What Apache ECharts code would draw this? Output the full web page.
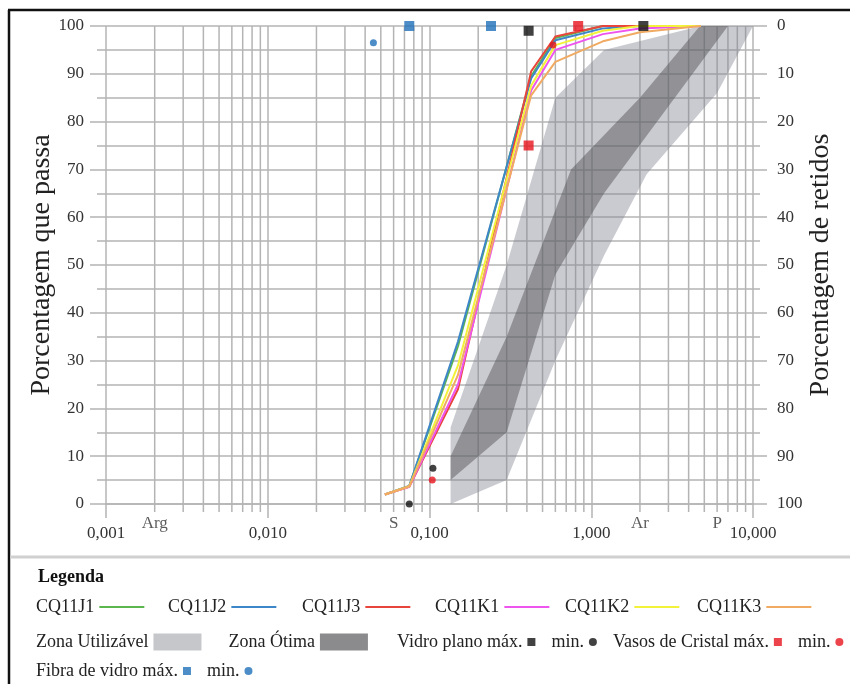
<!DOCTYPE html>
<html>
<head>
<meta charset="utf-8">
<script src="https://cdn.jsdelivr.net/npm/echarts@6/dist/echarts.min.js"></script>
<style>
  html, body { margin: 0; padding: 0; background: #fff; }
  #chart { width: 850px; height: 684px; }
</style>
</head>
<body>
<div id="chart"></div>
<script>
// aberturas das peneiras (mm)
var sieves = [0.053, 0.075, 0.15, 0.425, 0.6, 1.18, 2.0, 4.75];
// porcentagem que passa
var cq11j1 = [2, 3.8, 33, 89.5, 97.5, 100, 100, 100];
var cq11j2 = [2, 3.8, 34, 89, 97, 99.5, 100, 100];
var cq11j3 = [2, 3.6, 24, 90.5, 97.8, 100, 100, 100];
var cq11k1 = [2, 3.6, 25, 86.5, 95, 98.3, 99.5, 100];
var cq11k2 = [2, 3.7, 29, 87.5, 96, 99, 100, 100];
var cq11k3 = [2, 3.7, 27, 85.5, 92.5, 96.8, 98.7, 100];

// zonas (limite fino / limite grosso)
var utilFineX = [0.135, 0.3, 0.6, 1.2, 4.75];
var utilFineY = [16, 50, 85, 95, 100];
var utilCoarseX = [0.135, 0.3, 0.6, 1.2, 2.2, 6, 10];
var utilCoarseY = [0, 5, 30, 52, 69, 86, 100];
var otimaFineX = [0.135, 0.3, 0.75, 2, 4.7];
var otimaFineY = [10, 35, 70, 85, 100];
var otimaCoarseX = [0.135, 0.3, 0.6, 1.2, 7];
var otimaCoarseY = [5, 15, 48, 65, 100];

// limites de referência
var vidroMax = [[0.41, 99], [2.1, 100]];
var vidroMin = [[0.075, 0], [0.105, 7.5]];
var vasosMax = [[0.83, 100], [0.41, 75]];
var vasosMin = [[0.104, 5], [0.58, 96]];
var fibraMax = [[0.075, 100], [0.24, 100]];
var fibraMin = [[0.045, 96.5]];

// classes de solo
var classNames = ['Arg', 'S', 'Ar', 'P'];
var classBounds = [0.002, 0.06, 2, 6];

var curveNames = ['CQ11J1', 'CQ11J2', 'CQ11J3', 'CQ11K1', 'CQ11K2', 'CQ11K3'];
var curveData = [cq11j1, cq11j2, cq11j3, cq11k1, cq11k2, cq11k3];
var curveColors = ['#5cb64e', '#3d86c8', '#e8463c', '#ee55ee', '#f2f23a', '#f0aa62'];

// posição horizontal de cada item da 1a linha da legenda
var curveLegendLeft = [36, 168, 302, 435, 565, 697];

var serif = 'Liberation Serif';
var gridColor = '#b4b4b4';
var gridLine = { color: gridColor, width: 1.5 };

// linhas secundárias do papel log
var minorX = [];
[0.001, 0.01, 0.1, 1].forEach(function (d) {
  for (var k = 2; k <= 9; k++) minorX.push(+(k * d).toPrecision(3));
});

function zoneSeries(name, fx, fy, cx, cy, color) {
  var pts = [];
  fx.forEach(function (x, i) { pts.push([x, fy[i]]); });
  for (var i = cx.length - 1; i >= 0; i--) pts.push([cx[i], cy[i]]);
  return {
    name: name,
    type: 'custom',
    silent: true,
    z: 1,
    itemStyle: { color: color },
    data: pts,
    renderItem: function (params, api) {
      if (params.dataIndex !== 0) return null;
      return {
        type: 'polygon',
        shape: { points: pts.map(function (p) { return api.coord(p); }) },
        style: { fill: color }
      };
    }
  };
}

function markerSeries(name, data, symbol, size, color) {
  return {
    name: name, type: 'scatter', data: data, symbol: symbol, symbolSize: size,
    itemStyle: { color: color }, z: 5, silent: true
  };
}

var series = [
  {
    name: 'grade', type: 'custom', silent: true, z: 0,
    data: minorX.map(function (v) { return [v, 0]; }),
    renderItem: function (params, api) {
      var a = api.coord([api.value(0), 100]);
      var b = api.coord([api.value(0), 0]);
      return {
        type: 'line',
        shape: { x1: a[0], y1: a[1], x2: b[0], y2: b[1] + 8 },
        style: { stroke: gridColor, lineWidth: 1.5 }
      };
    }
  },
  zoneSeries('Zona Utilizável', utilFineX, utilFineY, utilCoarseX, utilCoarseY, 'rgba(133,135,145,0.43)'),
  zoneSeries('Zona Ótima', otimaFineX, otimaFineY, otimaCoarseX, otimaCoarseY, 'rgba(80,80,84,0.47)')
];

curveNames.forEach(function (n, i) {
  series.push({
    name: n, type: 'line', z: 3, silent: true,
    symbol: 'none',
    lineStyle: { color: curveColors[i], width: 2 },
    itemStyle: { color: curveColors[i] },
    data: sieves.map(function (s, j) { return [s, curveData[i][j]]; })
  });
});

series.push(
  markerSeries('Vidro plano máx.', vidroMax, 'rect', 10, '#111'),
  markerSeries('Vidro plano min.', vidroMin, 'circle', 7, '#111'),
  markerSeries('Vasos de Cristal máx.', vasosMax, 'rect', 10, '#e8141e'),
  markerSeries('Vasos de Cristal min.', vasosMin, 'circle', 7, '#e8141e'),
  markerSeries('Fibra de vidro máx.', fibraMax, 'rect', 10, '#1f70ba'),
  markerSeries('Fibra de vidro min.', fibraMin, 'circle', 7, '#1f70ba'),
  {
    name: 'classes', type: 'scatter', silent: true, symbolSize: 0,
    data: classBounds.map(function (v) { return [v, 0]; }),
    label: {
      show: true, position: 'bottom', distance: 11,
      fontFamily: serif, fontSize: 17, color: '#333',
      formatter: function (p) { return classNames[p.dataIndex]; }
    }
  }
);

var legendText = { fontFamily: serif, fontSize: 18, color: '#222' };
var minFormatter = function (n) { return /min\.$/.test(n) ? 'min.' : n; };

var legends = curveNames.map(function (n, i) {
  return {
    left: curveLegendLeft[i], top: 598, padding: 0, align: 'right', selectedMode: false,
    icon: 'rect', itemWidth: 45, itemHeight: 2,
    textStyle: legendText, data: [n]
  };
});
legends.push(
  {
    left: 36, top: 633, padding: 0, align: 'right', selectedMode: false,
    icon: 'rect', itemWidth: 48, itemHeight: 17, itemGap: 27,
    textStyle: legendText,
    data: [
      { name: 'Zona Utilizável', itemStyle: { color: '#c6c7cb' } },
      { name: 'Zona Ótima', itemStyle: { color: '#8b8b8e' } }
    ]
  },
  {
    left: 397, top: 633, padding: 0, align: 'right', selectedMode: false,
    itemWidth: 8, itemHeight: 8, itemGap: 16,
    textStyle: legendText, formatter: minFormatter,
    data: [
      { name: 'Vidro plano máx.', icon: 'rect' },
      { name: 'Vidro plano min.', icon: 'circle' },
      { name: 'Vasos de Cristal máx.', icon: 'rect' },
      { name: 'Vasos de Cristal min.', icon: 'circle' }
    ]
  },
  {
    left: 36, top: 662, padding: 0, align: 'right', selectedMode: false,
    itemWidth: 8, itemHeight: 8, itemGap: 16,
    textStyle: legendText, formatter: minFormatter,
    data: [
      { name: 'Fibra de vidro máx.', icon: 'rect' },
      { name: 'Fibra de vidro min.', icon: 'circle' }
    ]
  }
);

var chart = echarts.init(document.getElementById('chart'));
chart.setOption({
  animation: false,
  textStyle: { fontFamily: serif },
  title: {
    text: 'Legenda', left: 38, top: 568, padding: 0,
    textStyle: { fontFamily: serif, fontSize: 18, fontWeight: 'bold', color: '#111' }
  },
  grid: { left: 106, right: 97, top: 26, bottom: 180 },
  xAxis: {
    type: 'log', logBase: 10, min: 0.001, max: 10,
    axisLine: { show: true, lineStyle: gridLine },
    axisTick: { show: true, length: 14, lineStyle: gridLine },
    splitLine: { show: true, lineStyle: gridLine },
    axisLabel: {
      fontFamily: serif, fontSize: 17, color: '#333', margin: 21,
      formatter: function (v) { return v.toFixed(3).replace('.', ','); }
    }
  },
  yAxis: [
    {
      type: 'value', min: 0, max: 100, interval: 10, position: 'left',
      name: 'Porcentagem que passa', nameLocation: 'middle', nameGap: 50, nameRotate: 90,
      nameMoveOverlap: false,
      nameTextStyle: { fontFamily: serif, fontSize: 28, color: '#222' },
      axisLine: { show: false },
      axisTick: { show: true, length: 16, lineStyle: gridLine },
      minorTick: { show: true, splitNumber: 2, length: 9, lineStyle: gridLine },
      splitLine: { show: true, lineStyle: gridLine },
      minorSplitLine: { show: true, lineStyle: gridLine },
      axisLabel: { fontFamily: serif, fontSize: 17, color: '#333', margin: 22 }
    },
    {
      type: 'value', min: 0, max: 100, interval: 10, position: 'right', inverse: true,
      name: 'Porcentagem de retidos', nameLocation: 'middle', nameGap: 54, nameRotate: 90,
      nameMoveOverlap: false,
      nameTextStyle: { fontFamily: serif, fontSize: 28, color: '#222' },
      axisLine: { show: false },
      axisTick: { show: true, length: 14, lineStyle: gridLine },
      minorTick: { show: true, splitNumber: 2, length: 7, lineStyle: gridLine },
      splitLine: { show: false },
      axisLabel: { fontFamily: serif, fontSize: 17, color: '#333', margin: 24 }
    }
  ],
  legend: legends,
  graphic: [
    { type: 'line', silent: true, shape: { x1: 8, y1: 10, x2: 850, y2: 10 }, style: { stroke: '#111', lineWidth: 2.5 } },
    { type: 'line', silent: true, shape: { x1: 9, y1: 10, x2: 9, y2: 684 }, style: { stroke: '#111', lineWidth: 2.5 } },
    { type: 'line', silent: true, shape: { x1: 10, y1: 557, x2: 850, y2: 557 }, style: { stroke: '#d0d0d0', lineWidth: 3 } }
  ],
  series: series
});
</script>
</body>
</html>
